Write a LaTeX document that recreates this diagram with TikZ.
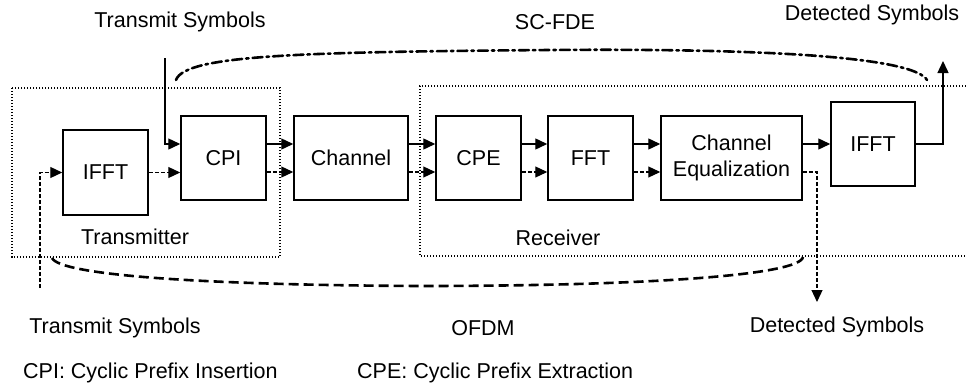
\documentclass[tikz,border=0pt]{standalone}
\usepackage{fontspec}
\setmainfont{Liberation Sans}
\usetikzlibrary{arrows.meta}
\begin{document}
\begin{tikzpicture}[x=1pt,y=-1pt,
  font=\fontsize{21.5}{26}\selectfont,
  blk/.style={draw,line width=1.5pt,rectangle,inner sep=0pt,align=center},
  sol/.style={line width=1.4pt,-{Triangle[length=12pt,width=11pt]}},
  dsh/.style={line width=1.2pt,dash pattern=on 4pt off 2pt,-{Triangle[length=12pt,width=11pt]}},
  dotbox/.style={line width=1.3pt,dash pattern=on 1.3pt off 1.7pt},
  lbl/.style={inner sep=0pt,anchor=center}]
\useasboundingbox (0,0) rectangle (966,388);
% dotted group boxes
\draw[dotbox] (12,88) rectangle (280,257);
\draw[dotbox] (966,86) -- (420,86) -- (420,256) -- (966,256);
% blocks
\node[blk,minimum width=85pt,minimum height=85pt] (ifftT) at (105.5,172.5) {IFFT};
\node[blk,minimum width=85pt,minimum height=84pt] (cpi) at (223.5,158) {CPI};
\node[blk,minimum width=114pt,minimum height=84pt] (chan) at (351,158) {Channel};
\node[blk,minimum width=85pt,minimum height=84pt] (cpe) at (478.5,158) {CPE};
\node[blk,minimum width=85pt,minimum height=84pt] (fft) at (590.5,158) {FFT};
\node[blk,minimum width=141pt,minimum height=84pt] (eq) at (731.5,158) {Channel\\Equalization};
\node[blk,minimum width=84pt,minimum height=84pt] (ifftR) at (873,144) {IFFT};
% free ends
\coordinate (txin) at (40,288);
\coordinate (txtop) at (165,58);
\coordinate (detTop) at (943,61);
\coordinate (detBot) at (817,302);
% connectors
\draw[dsh] (txin) |- (ifftT.west);
\draw[dsh] (ifftT.east) -- (ifftT.east -| cpi.west);
\draw[sol] (txtop) |- ([yshift=14pt]cpi.west);
\draw[sol] ([yshift=14pt]cpi.east) -- ([yshift=14pt]chan.west);
\draw[dsh] ([yshift=-14pt]cpi.east) -- ([yshift=-14pt]chan.west);
\draw[sol] ([yshift=14pt]chan.east) -- ([yshift=14pt]cpe.west);
\draw[dsh] ([yshift=-14pt]chan.east) -- ([yshift=-14pt]cpe.west);
\draw[sol] ([yshift=14pt]cpe.east) -- ([yshift=14pt]fft.west);
\draw[dsh] ([yshift=-14pt]cpe.east) -- ([yshift=-14pt]fft.west);
\draw[sol] ([yshift=14pt]fft.east) -- ([yshift=14pt]eq.west);
\draw[dsh] ([yshift=-14pt]fft.east) -- ([yshift=-14pt]eq.west);
\draw[sol] ([yshift=14pt]eq.east) -- (ifftR.west);
\draw[sol] (ifftR.east) -| (detTop);
\draw[dsh] ([yshift=-14pt]eq.east) -| (detBot);
% SC-FDE and OFDM curves
\draw[line width=2.6pt,dash pattern=on 10pt off 4pt on 2.5pt off 4pt,line cap=round]
  (176,80) .. controls (185,55) and (300,52) .. (550,50) .. controls (800,48) and (915,60) .. (927,80);
\draw[line width=2.6pt,dash pattern=on 10pt off 5pt]
  (52,258) .. controls (60,275) and (200,285) .. (420,286) .. controls (650,286) and (800,275) .. (803,257);
% labels
\node[lbl] (tTop) at (180,22) {Transmit Symbols};
\node[lbl] (scfde) at (555,22) {SC-FDE};
\node[lbl] (dTop) at (872,15) {Detected Symbols};
\node[lbl] (txl) at (135,237) {Transmitter};
\node[lbl] (rxl) at (558,238) {Receiver};
\node[lbl] (tBot) at (115,328) {Transmit Symbols};
\node[lbl] (ofdm) at (483,328) {OFDM};
\node[lbl] (dBot) at (837,327) {Detected Symbols};
\node[lbl,anchor=west] (cpiL) at (23,373) {CPI: Cyclic Prefix Insertion};
\node[lbl,anchor=west] (cpeL) at (357,373) {CPE: Cyclic Prefix Extraction};
\end{tikzpicture}
\end{document}
